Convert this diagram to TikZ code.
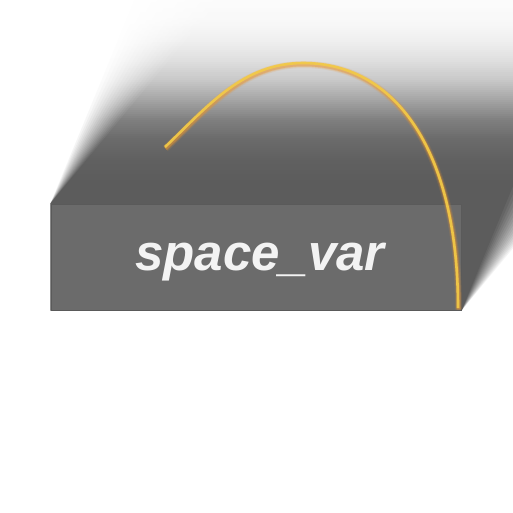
\documentclass[tikz,border=0pt]{standalone}
\usepackage{fontspec}
\newfontfamily\varfont{Liberation Sans}
\usetikzlibrary{calc}
\definecolor{shadowgray}{RGB}{90,90,90}
\definecolor{boxgray}{RGB}{107,107,107}
\definecolor{labelwhite}{RGB}{243,243,243}
\definecolor{arcyellow}{RGB}{242,202,72}
\definecolor{arcglow}{RGB}{232,150,50}
\def\fanM{16}
\tikzset{
  box/.style={fill=boxgray, draw=shadowgray, line width=1pt, minimum width=410pt, minimum height=106pt, inner sep=0pt},
  varname/.style={text=labelwhite, inner sep=0pt, font=\varfont\fontsize{51}{51}\bfseries\itshape\selectfont},
  arcline/.style={draw=arcyellow, line width=2.6pt, draw opacity=0.92},
}

\begin{document}
\begin{tikzpicture}[x=1pt,y=-1pt]
\useasboundingbox (0,0) rectangle (513,512);
\fill[white] (0,0) rectangle (513,512);
\node[box] (var) at (256,257) {};
% draw shadow
\begin{scope}
\clip (0,0) rectangle (513,512);
\foreach \m in {1,...,16}{
  \pgfmathsetmacro\lop{(0.985/\fanM)/(1-0.985*(\m-1)/\fanM)}
  \pgfmathsetmacro\spread{0.22*(1-2*(\m-0.5)/\fanM)}
  \fill[shadowgray, fill opacity=\lop] (var.south west) -- (var.north west)
    -- ++({(0.62-\spread)*224},-224)
    -- ([shift={({(0.62+\spread)*330},-330)}]var.south east)
    -- (var.south east) -- cycle;
}
% fade the shadow out towards the top
\foreach \ya/\aa/\yb/\ab in {0/0.02/20/0.035,20/0.035/40/0.09,40/0.09/60/0.19,60/0.19/80/0.33,80/0.33/100/0.55,100/0.55/120/0.78,120/0.78/140/0.91,140/0.91/160/0.97,160/0.97/180/0.995,180/0.995/204/1}{
  \pgfmathtruncatemacro\nstrips{(\yb-\ya)/2}
  \foreach \i in {1,...,\nstrips}{
    \pgfmathsetmacro\ystrip{\ya+2*(\i-1)}
    \pgfmathsetmacro\wop{1-(\aa+(\ab-\aa)*(2*\i-1)/(\yb-\ya))}
    \fill[white, fill opacity=\wop] (0,\ystrip) rectangle (513,\ystrip+2);
  }
}
\end{scope}
% draw box and name
\node[box] at (var.center) {};
\node[varname, anchor=base] (varlabel) at (260,270) {space\_var};
% draw arc
\coordinate (arcstart) at (165,147);
\coordinate (arctop) at (303,63);
\coordinate (arcend) at (458,308);
\begin{scope}[transform canvas={shift={(0.5pt,-1.5pt)}}]
\foreach \lw/\gop in {7/0.15,5/0.25,3.5/0.4}
  \draw[draw=arcglow, line width=\lw pt, draw opacity=\gop] (arcstart) .. controls (208,106) and (243,63) .. (arctop) .. controls (399,63) and (458,156) .. (arcend);
\end{scope}
\draw[arcline] (arcstart) .. controls (208,106) and (243,63) .. (arctop) .. controls (399,63) and (458,156) .. (arcend);
\end{tikzpicture}
\end{document}
